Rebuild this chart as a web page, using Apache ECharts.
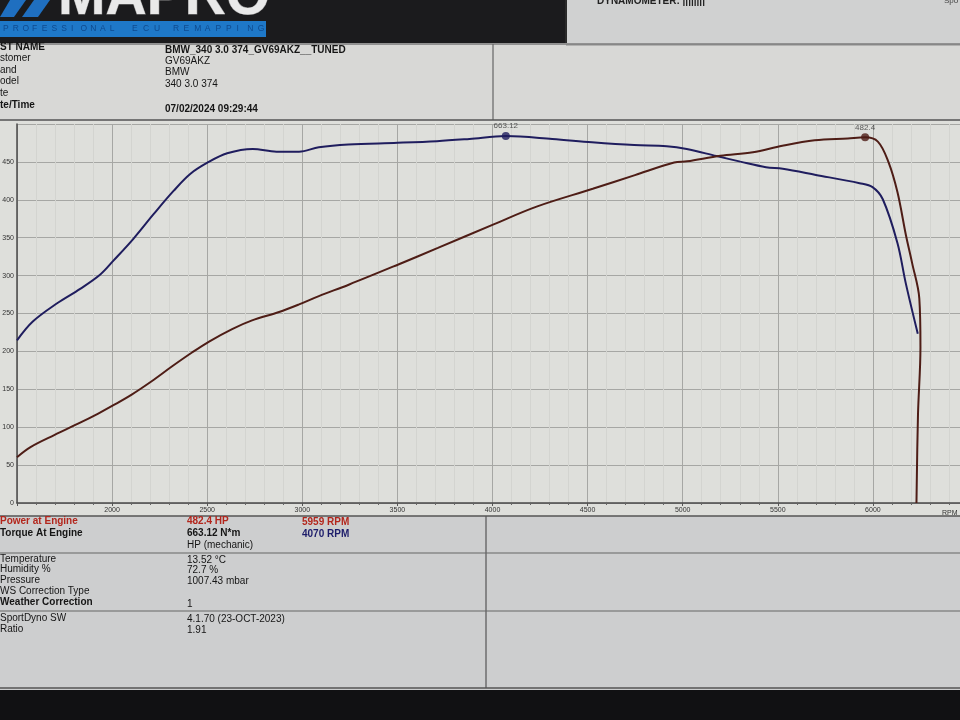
<!DOCTYPE html>
<html><head><meta charset="utf-8">
<script src="https://cdn.jsdelivr.net/npm/echarts@6/dist/echarts.min.js"></script>
<style>html,body{margin:0;padding:0;background:#dedfdb}#c{width:960px;height:720px}</style>
</head><body><div id="c"></div>
<script>
// ---- data read from the dyno sheet ----
const torqueRpm = [1500,1583,1711,1832,1938,2007,2113,2218,2323,2412,2501,2605,2739,2864,2983,3087,3242,3501,3708,3879,4070,4314,4523,4745,4916,5021,5178,5303,5438,5526,5700,5930,5998,6052,6129,6173,6236];
const torqueNm  = [294,328,361,387,413,438,478,522,564,595,615,632,640,635,635,643,648,651,654,658,663.12,658,652,647,645,640,627,617,607,604,593,578,571,549,470,397,306];
const powerRpm  = [1500,1571,1698,1821,1927,2007,2103,2208,2314,2420,2510,2631,2736,2878,2983,3087,3244,3505,3713,4009,4232,4527,4749,4955,5023,5198,5369,5524,5694,5868,5959,6026,6081,6129,6174,6206,6244,6250,6237,6229];
const powerHp   = [60.5,73.8,89.9,104.6,118,129,143,160.6,180,198.5,213,229.5,241,252,262,273,288,314.7,336.5,367.9,391,414.5,432.6,449.2,450.8,458,462.6,471.3,478.5,481,482.4,476.8,450.4,410.2,352.9,316.8,270,205.9,116.2,0];
const xTickLabels = [2000,2500,3000,3500,4000,4500,5000,5500,6000];
const yTickLabels = [0,50,100,150,200,250,300,350,400,450];

const zip = (a,b) => a.map((v,i)=>[v,b[i]]);
const tIdx = torqueNm.indexOf(Math.max(...torqueNm));
const pIdx = powerHp.indexOf(Math.max(...powerHp));

const F = '"Liberation Sans", Arial, sans-serif';
function T(x,y,text,o){o=o||{};return {type:'text',x:x,y:y,z:5,silent:true,style:{text:text,fill:o.fill||'#151515',font:(o.w||'normal')+' '+(o.s||10)+'px '+F,verticalAlign:'middle',align:o.align||'left'}};}
function L(x1,y1,x2,y2,c,w){return {type:'line',z:4,silent:true,shape:{x1:x1,y1:y1,x2:x2,y2:y2},style:{stroke:c||'#555',lineWidth:w||1.2}};}
function R(x,y,w,h,c){return {type:'rect',z:-10,silent:true,shape:{x:x,y:y,width:w,height:h},style:{fill:c}};}
function spaced(word,x0,pitch,y){return word.split('').map((ch,i)=>T(x0+i*pitch,y,ch,{fill:'#0f4a8e',s:8.5}));}

const graphics = [
  // header
  R(0,0,566,43,'#1b1b1d'),
  R(566,0,394,43,'#d0d1d1'),
  L(566,0,566,43,'#2a2a2a',2),
  L(566,45,960,45,'#8a8a8a',1),
  {type:'polygon',z:5,silent:true,shape:{points:[[10,0],[26,0],[14,17],[0,17]]},style:{fill:'#1f6fc0'}},
  {type:'polygon',z:5,silent:true,shape:{points:[[34,0],[50,0],[38,17],[22,17]]},style:{fill:'#1f6fc0'}},
  {type:'text',x:58,y:27,z:5,silent:true,style:{text:'MAPRO',fill:'#e9e9e9',stroke:'#8a8a8a',lineWidth:1,font:'bold 57px '+F,verticalAlign:'bottom'}},
  {type:'rect',z:5,silent:true,shape:{x:0,y:21,width:266,height:16},style:{fill:'#1e78c8'}},
  ...spaced('PROFESSIONAL',3,9.7,29),
  ...spaced('ECU',132,11,29),
  ...spaced('REMAPPING',173,10.6,29),
  T(597,1,'DYNAMOMETER: ||||||||',{w:'bold',s:10,fill:'#222'}),
  T(944,1,'Spo',{s:8,fill:'#444'}),
  // info table
  R(0,43,960,78,'#d8d8d6'),
  L(0,44,960,44,'#7a7a7a',1.5),
  L(493,44,493,120,'#666',1.2),
  L(0,120,960,120,'#555',1.5),
  T(0,47,'ST NAME',{w:'bold'}),
  T(0,58.5,'stomer'),
  T(0,70,'and'),
  T(0,81.5,'odel'),
  T(0,93,'te'),
  T(0,105,'te/Time',{w:'bold'}),
  T(165,50,'BMW_340 3.0 374_GV69AKZ__TUNED',{w:'bold'}),
  T(165,61,'GV69AKZ'),
  T(165,72.5,'BMW'),
  T(165,84,'340 3.0 374'),
  T(165,109,'07/02/2024 09:29:44',{w:'bold'}),
  // x axis name
  T(942,513,'RPM',{s:7,fill:'#333'}),
  // bottom table
  R(0,516,960,174,'#cdcecf'),
  L(0,516,960,516,'#555',1.5),
  L(486,516,486,688,'#555',1.2),
  L(0,553,960,553,'#666',1.2),
  L(0,611,960,611,'#666',1.2),
  L(0,688,960,688,'#555',1.5),
  R(0,690,960,30,'#111113'),
  T(0,521,'Power at Engine',{w:'bold',fill:'#b3261c'}),
  T(187,521,'482.4 HP',{w:'bold',fill:'#b3261c'}),
  T(302,522,'5959 RPM',{w:'bold',fill:'#b3261c'}),
  T(0,533,'Torque At Engine',{w:'bold'}),
  T(187,533,'663.12 N*m',{w:'bold'}),
  T(302,534,'4070 RPM',{w:'bold',fill:'#1c1c6a'}),
  T(187,545,'HP (mechanic)'),
  T(0,559,'Temperature'),
  T(187,560,'13.52 °C'),
  T(0,569.5,'Humidity %'),
  T(187,570.5,'72.7 %'),
  T(0,580.5,'Pressure'),
  T(187,581.5,'1007.43 mbar'),
  T(0,591.5,'WS Correction Type'),
  T(0,602.5,'Weather Correction',{w:'bold'}),
  T(187,604,'1'),
  T(0,618,'SportDyno SW'),
  T(187,619,'4.1.70 (23-OCT-2023)'),
  T(0,629,'Ratio'),
  T(187,630,'1.91')
];

const chart = echarts.init(document.getElementById('c'), null, {renderer:'canvas'});
chart.setOption({
  backgroundColor:'#dedfdb',
  animation:false,
  graphic:graphics,
  grid:{left:17,top:124,width:951,height:379,show:false,containLabel:false,outerBoundsMode:'none'},
  xAxis:{
    type:'value',min:1500,max:6500,interval:500,
    axisLine:{show:true,lineStyle:{color:'#4a4a4a',width:1.5}},
    axisTick:{show:true,length:3,lineStyle:{color:'#555'}},
    minorTick:{show:true,splitNumber:5,length:2,lineStyle:{color:'#666'}},
    axisLabel:{fontSize:7,color:'#333',margin:4,fontFamily:F,
      formatter:v=> xTickLabels.indexOf(v)>=0 ? String(v) : ''},
    splitLine:{show:true,lineStyle:{color:'#a6a7a4',width:1}},
    minorSplitLine:{show:true,lineStyle:{color:'#d3d4d0',width:1}}
  },
  yAxis:[{
    type:'value',min:0,max:500,interval:50,
    axisLine:{show:true,lineStyle:{color:'#4a4a4a',width:1.5}},
    axisTick:{show:false},
    axisLabel:{fontSize:7,color:'#333',margin:3,fontFamily:F,
      formatter:v=> yTickLabels.indexOf(v)>=0 ? String(v) : ''},
    splitLine:{show:true,lineStyle:{color:'#a6a7a4',width:1}}
  },{
    type:'value',min:0,max:685,show:false,splitLine:{show:false}
  }],
  series:[
    {name:'Torque',type:'line',yAxisIndex:1,data:zip(torqueRpm,torqueNm),showSymbol:false,smooth:0.35,
      lineStyle:{color:'#1f1d5e',width:2},z:3},
    {name:'Power',type:'line',yAxisIndex:0,data:zip(powerRpm,powerHp),showSymbol:false,smooth:0.35,
      lineStyle:{color:'#4e1d16',width:2},z:3},
    {type:'scatter',yAxisIndex:1,data:[[torqueRpm[tIdx],torqueNm[tIdx]]],symbolSize:8,
      itemStyle:{color:'#1f1d5e'},z:4,
      label:{show:true,position:'top',distance:2,fontSize:8,color:'#333',fontFamily:F,formatter:p=>String(p.value[1])}},
    {type:'scatter',yAxisIndex:0,data:[[powerRpm[pIdx],powerHp[pIdx]]],symbolSize:8,
      itemStyle:{color:'#4e1d16'},z:4,
      label:{show:true,position:'top',distance:2,fontSize:8,color:'#333',fontFamily:F,formatter:p=>String(p.value[1])}}
  ]
});
</script></body></html>
